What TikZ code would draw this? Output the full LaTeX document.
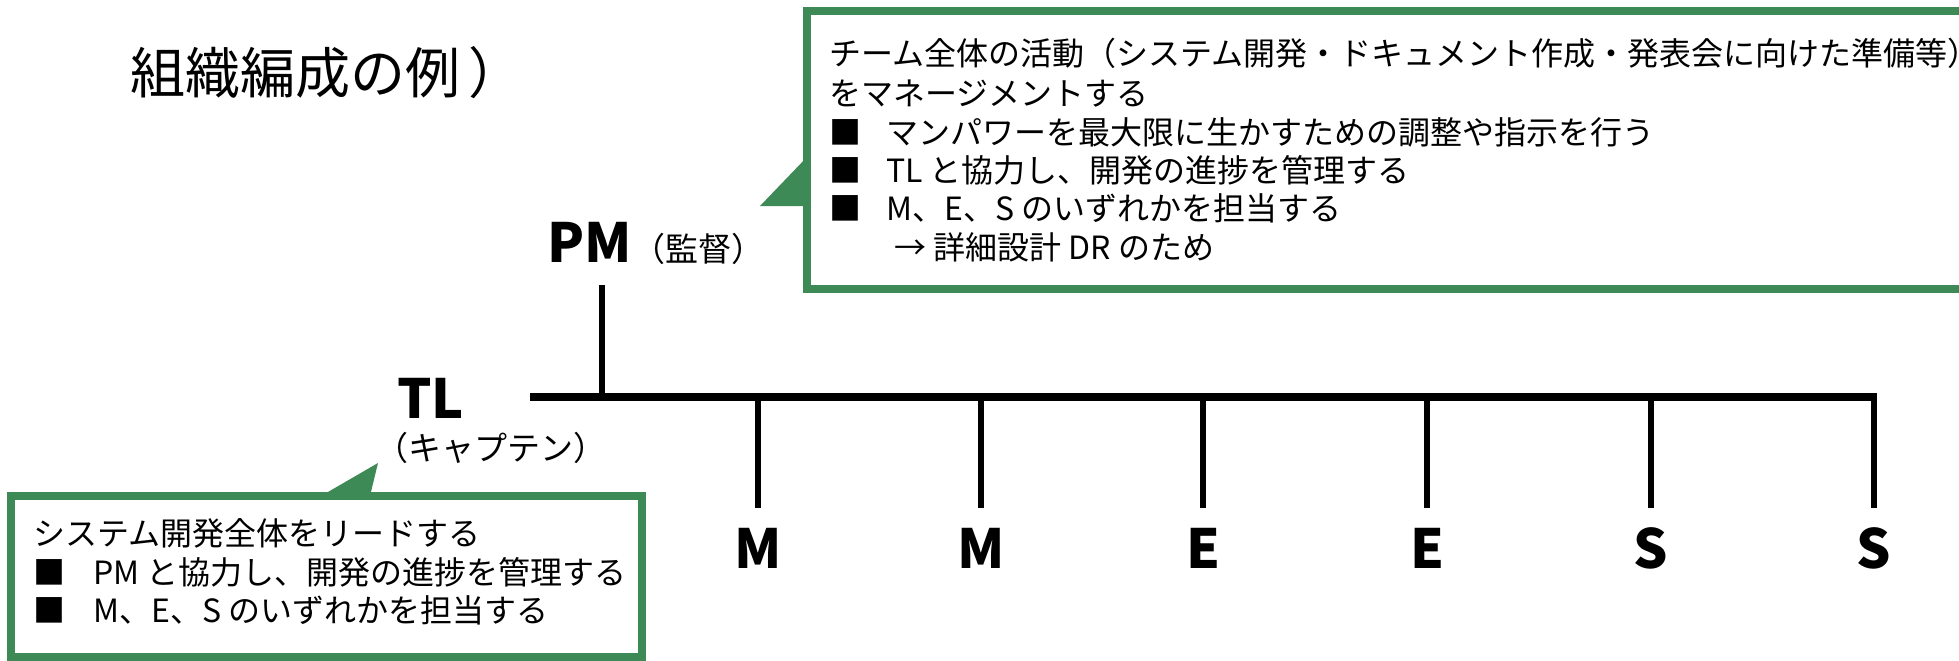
\documentclass[tikz,border=0pt]{standalone}
\usepackage{fontspec}
\setmainfont{Noto Sans CJK JP}
\definecolor{callgreen}{RGB}{62,138,86}
\begin{document}
\begin{tikzpicture}[x=1pt,y=-1pt,
  txt/.style={anchor=base west, inner sep=0pt, font=\fontsize{32}{38}\selectfont},
  ttl/.style={anchor=base west, inner sep=0pt, font=\fontsize{55}{60}\selectfont},
  role/.style={anchor=base, inner sep=0pt, font=\fontsize{54}{60}\selectfont\bfseries},
  sub/.style={anchor=base west, inner sep=0pt, font=\fontsize{33}{36}\selectfont},
  box/.style={draw=callgreen, line width=8pt, fill=white},
  ptr/.style={fill=callgreen},
  bar/.style={line width=8pt},
  drop/.style={line width=6pt}]
\useasboundingbox (0,0) rectangle (1959,661);
\clip (0,0) rectangle (1959,661);

% title
\node[ttl] (title) at (130,93) {組織編成の例\kern8pt）};

% top callout
\draw[box] (807,11) rectangle (1985,289);
\fill[ptr] (807,157) -- (760,206) -- (807,206) -- cycle;
\node[txt] (t1) at (829,66) {チーム全体の活動（システム開発・ドキュメント作成・発表会に向けた準備等）};
\node[txt] (t2) at (829,105) {をマネージメントする};
\node[txt] (tb1) at (829,144) {■};
\node[txt] (t3) at (886,144) {マンパワーを最大限に生かすための調整や指示を行う};
\node[txt] (tb2) at (829,182) {■};
\node[txt] (t4) at (886,182) {TL と協力し、開発の進捗を管理する};
\node[txt] (tb3) at (829,220) {■};
\node[txt] (t5) at (886,220) {M、E、S のいずれかを担当する};
\node[txt] (t6) at (894,259) {→ 詳細設計 DR のため};

% bottom callout
\draw[box] (11,496) rectangle (642,657);
\fill[ptr] (321,496) -- (378,463) -- (370,496) -- cycle;
\node[txt] (u1) at (33,545) {システム開発全体をリードする};
\node[txt] (ub1) at (33,584) {■};
\node[txt] (u2) at (93,584) {PM と協力し、開発の進捗を管理する};
\node[txt] (ub2) at (33,622) {■};
\node[txt] (u3) at (93,622) {M、E、S のいずれかを担当する};

% roles
\node[role, anchor=base west] (pm) at (547,262) {PM};
\node[sub] (pmsub) at (632,261) {（監督）};
\node[role, anchor=base west] (tl) at (397,418) {TL};
\node[sub] (tlsub) at (375,460) {（キャプテン）};

% connectors
\coordinate (barL) at (530,397);
\coordinate (barR) at (1877,397);
\draw[bar] (barL) -- (barR);
\coordinate (pmtop) at (602,285);
\coordinate (pmjoin) at (602,397);
\draw[drop] (pmtop) -- (pmjoin);
\foreach \x/\lab/\n in {758/M/1, 981/M/2, 1203/E/3, 1427/E/4, 1651/S/5, 1874/S/6}{
  \coordinate (j\n) at (\x,397);
  \coordinate (e\n) at (\x,508);
  \draw[drop] (j\n) -- (e\n);
  \node[role] (l\n) at (\x,568) {\lab};
}
\end{tikzpicture}
\end{document}
